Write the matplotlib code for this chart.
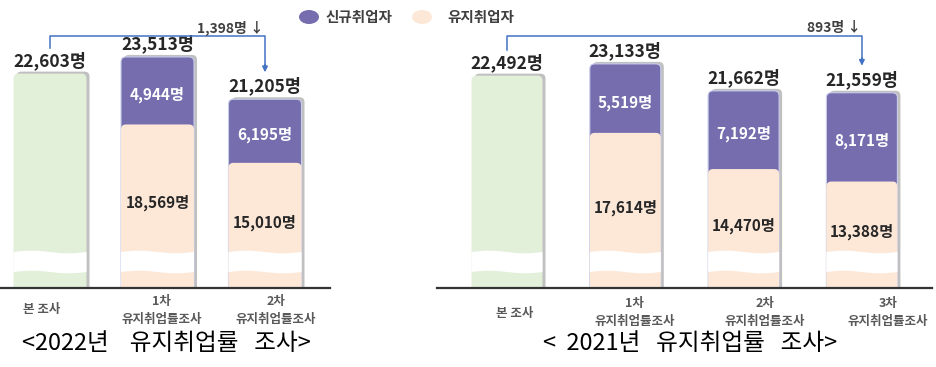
import numpy as np
import matplotlib
matplotlib.use('Agg')
import matplotlib.pyplot as plt
from matplotlib.patches import FancyBboxPatch, Polygon, Ellipse
from matplotlib.transforms import IdentityTransform, offset_copy

plt.rcParams['font.family'] = ['Noto Sans CJK KR', 'DejaVu Sans']

# ---------------- data ----------------
categories_2022 = ['본 조사', '1차\n유지취업률조사', '2차\n유지취업률조사']
total_2022 = [22603, 23513, 21205]
new_2022 = [None, 4944, 6195]
keep_2022 = [None, 18569, 15010]
drop_2022 = 1398
title_2022 = '<2022년    유지취업률   조사>'

categories_2021 = ['본 조사', '1차\n유지취업률조사', '2차\n유지취업률조사', '3차\n유지취업률조사']
total_2021 = [22492, 23133, 21662, 21559]
new_2021 = [None, 5519, 7192, 8171]
keep_2021 = [None, 17614, 14470, 13388]
drop_2021 = 893
title_2021 = '<  2021년   유지취업률   조사>'

legend_labels = ['신규취업자', '유지취업자']

# ---------------- style ----------------
PURPLE = '#756DAE'
PEACH = '#FDE8D8'
GREEN = '#E2EFD9'
SHADOW = '#C0C0C0'
BLUE = '#4472C4'
DARK = '#262626'
GRAY = '#595959'

W, H = 936, 367
BASE = 288  # baseline, pixels from top

# broken (non-linear) value axis, as in the infographic
KV = [0, 13000, 17600, 21000, 24000, 40000]
KP = [0, 102, 155, 185, 240, 533.3]


def fwd(v):
    return np.interp(v, KV, KP)


def inv(p):
    return np.interp(p, KP, KV)


fig = plt.figure(figsize=(W / 100, H / 100), dpi=100)
ID = IdentityTransform()


def fmt(v):
    return f'{v:,}명'


def rbox(ax, xl, xr, yb, yt, color, z, ec='none', lw=0):
    p = FancyBboxPatch((xl, yb), xr - xl, yt - yb,
                       boxstyle='round,pad=0,rounding_size=5',
                       transform=ID, facecolor=color, edgecolor=ec,
                       linewidth=lw, zorder=z)
    ax.add_artist(p)


def panel(x0, x1, c0, s, bw, cats, total, new, keep, drop, title, title_cx,
          label_dx, label_dy):
    ax = fig.add_axes([x0 / W, (H - BASE) / H, (x1 - x0) / W, BASE / H])
    ax.set_yscale('function', functions=(fwd, inv))
    n = len(total)
    xs = np.arange(n)
    ax.set_xlim((x0 - c0) / s, (x1 - c0) / s)
    ax.set_ylim(0, inv(BASE))
    ax.set_facecolor('none')
    for sp in ['top', 'right', 'left']:
        ax.spines[sp].set_visible(False)
    ax.spines['bottom'].set_color('#333333')
    ax.spines['bottom'].set_linewidth(1.6)
    ax.spines['bottom'].set_zorder(10)
    ax.set_xticks([])
    ax.set_yticks([])
    ax.minorticks_off()

    w = bw / s
    tops = []
    for i in xs:
        xl = ax.transData.transform((i - w / 2, 0))[0]
        xr = ax.transData.transform((i + w / 2, 0))[0]
        yb = ax.transData.transform((i, 0))[1]
        yt = ax.transData.transform((i, total[i]))[1]
        tops.append(yt)
        # shadow
        rbox(ax, xl + 3, xr + 3, yb - 10, yt + 2, SHADOW, 1)
        if new[i] is None:
            rbox(ax, xl, xr, yb - 10, yt, GREEN, 2)
        else:
            ym = ax.transData.transform((i, keep[i]))[1]
            rbox(ax, xl, xr, yb - 10, yt, PURPLE, 2, ec='#C8CDEA', lw=0.8)
            rbox(ax, xl, xr, yb - 10, ym, PEACH, 3)
            # labels inside
            fig.text((xl + xr) / 2 / W, ((ym + yt) / 2 - 4) / H, fmt(new[i]),
                     ha='center', va='center', color='white',
                     fontsize=11, fontweight='bold', zorder=6)
            fig.text((xl + xr) / 2 / W, ((ym + yb) / 2 + 3) / H, fmt(keep[i]),
                     ha='center', va='center', color=DARK,
                     fontsize=11, fontweight='bold', zorder=6)
        # top label
        ax.text(i, total[i], fmt(total[i]),
                transform=offset_copy(ax.transData, fig, x=0, y=13,
                                      units='dots'),
                ha='center', va='center', color=DARK, fontsize=12.5,
                fontweight='bold', zorder=6)
        # wavy break band
        xx = np.linspace(xl, xr, 40)
        wave = 1.3 * np.sin(2 * np.pi * (xx - xl) / (xr - xl))
        top_edge = yb + 36 + wave
        bot_edge = yb + 16 + wave
        pts = np.column_stack([np.concatenate([xx, xx[::-1]]),
                               np.concatenate([top_edge, bot_edge[::-1]])])
        ax.add_artist(Polygon(pts, closed=True, transform=ID,
                              facecolor='white', edgecolor='none', zorder=5))
        # category labels
        ax.text(i, 0, cats[i],
                transform=offset_copy(ax.get_xaxis_transform(), fig,
                                      x=label_dx[i], y=label_dy, units='dots'),
                ha='center', va='center', color=GRAY, fontsize=9,
                fontweight='bold', linespacing=1.5)

    # bracket showing decrease
    xa = ax.transData.transform((0, 0))[0]
    xb = ax.transData.transform((n - 1, 0))[0]
    yh = H - 36
    ya = tops[0] + 26
    ye = tops[-1] + 27
    ax.plot([xa, xa, xb, xb], [ya, yh, yh, ye + 6], color=BLUE, lw=1.1,
            transform=ID, zorder=7, clip_on=False)
    ax.annotate('', xy=(xb, ye), xytext=(xb, ye + 8), xycoords='figure pixels',
                textcoords='figure pixels',
                arrowprops=dict(arrowstyle='-|>', color=BLUE, lw=1.1,
                                mutation_scale=8, shrinkA=0, shrinkB=0))
    fig.text((xb - 1) / W, (H - 28) / H, f'{drop:,}명 ↓', ha='right',
             va='center', color='#404040', fontsize=10, fontweight='bold')

    fig.text(title_cx / W, (H - 343) / H, title, ha='center', va='center',
             color='black', fontsize=17)
    return ax


panel(0, 330, 50, 107.5, 73, categories_2022, total_2022, new_2022,
      keep_2022, drop_2022, title_2022, 166, [-8, 4, 11], -22)
panel(437, 932, 507, 118.3, 71, categories_2021, total_2021, new_2021,
      keep_2021, drop_2021, title_2021, 690, [8, 9, 21, 26], -25)

# legend
for (cx, tx), lab, col in zip([(309, 325), (422, 447)], legend_labels,
                              [PURPLE, PEACH]):
    fig.add_artist(Ellipse((cx, H - 17), 20, 14, transform=ID, facecolor=col,
                           edgecolor='none'))
    fig.text(tx / W, (H - 17) / H, lab, ha='left', va='center',
             color='#404040', fontsize=10.5, fontweight='bold')

fig.savefig('out.png', dpi=100)
